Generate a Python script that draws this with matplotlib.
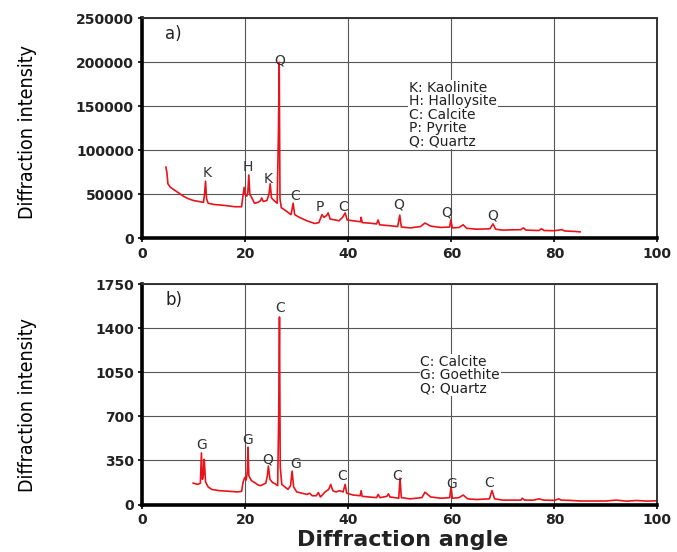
import matplotlib.pyplot as plt
from matplotlib import font_manager

# panel a) : angle / intensity read from the pattern
angle_a = [4.6, 4.8, 5.0, 5.5, 6, 7, 8, 9, 10, 11, 11.9, 12.1, 12.3, 12.5, 12.8,
           14, 16, 18, 19.3, 19.6, 19.8, 20.0, 20.3, 20.5, 20.7, 20.9, 21.3, 21.8,
           22.5, 23.0, 23.2, 23.5, 24.2, 24.6, 24.85, 25.1, 25.6, 26.2, 26.45, 26.6,
           26.75, 27.0, 28, 28.9, 29.3, 29.6, 30.5, 32, 33.5, 34.3, 34.9, 35.3, 35.8,
           36.1, 36.5, 37.5, 38.2, 38.9, 39.4, 39.8, 41, 42.4, 42.5, 42.7, 44, 45.5,
           45.8, 46.1, 48, 49.6, 50.0, 50.3, 52, 54, 54.9, 56, 58, 59.7, 59.9, 60.2,
           61.5, 62.3, 63, 65, 67.5, 68.1, 68.6, 70, 73.5, 74, 74.5, 77, 77.5, 78,
           80, 81.5, 82, 84, 85]
int_a = [81000, 75000, 62000, 58000, 56000, 52000, 48000, 45000, 43000, 42000,
         41000, 50000, 65000, 45000, 40000, 38500, 37500, 36000, 36000, 50000,
         58000, 50000, 48000, 52000, 72000, 50000, 46000, 40000, 41000, 43000,
         46000, 42000, 43000, 50000, 62000, 46000, 43000, 40000, 120000, 200000,
         45000, 35000, 31000, 27000, 40000, 27000, 24000, 20000, 17000, 18000,
         27000, 24000, 26000, 29000, 22000, 21000, 20000, 24000, 29000, 21000,
         20000, 19000, 24000, 18000, 17500, 16500, 21000, 15500, 14500, 13500,
         26500, 13000, 12000, 13500, 17500, 14000, 12500, 13000, 21000, 12000,
         12500, 15500, 11500, 10500, 11000, 16500, 10500, 9500, 10000, 12000,
         9500, 9000, 11000, 9000, 8800, 10000, 8500, 8000, 7500]

# panel b)
angle_b = [9.9, 10.3, 10.8, 11.3, 11.5, 11.7, 11.9, 12.05, 12.3, 12.8, 13.5, 15, 17,
           18.5, 19.3, 19.6, 19.9, 20.2, 20.4, 20.55, 20.7, 21.2, 22, 22.5, 23.0,
           23.5, 24.0, 24.3, 24.5, 24.8, 25.3, 25.8, 26.3, 26.5, 26.65, 26.8, 27.1,
           27.7, 28.3, 28.8, 29.1, 29.4, 30, 31, 32, 32.5, 33, 33.8, 34.2, 34.6,
           35.5, 36.2, 36.6, 37.0, 37.6, 38.3, 39.0, 39.4, 39.7, 41, 42.3, 42.5,
           42.7, 44, 45.5, 45.8, 46.2, 47.5, 47.8, 48.1, 49, 49.8, 50.05, 50.3, 52,
           54.3, 54.9, 56, 58, 59.7, 59.95, 60.2, 61.5, 62.3, 63.2, 65, 67.4, 67.9,
           68.4, 70, 73.5, 73.8, 74.2, 76, 77, 78, 80, 80.9, 81.3, 83, 85, 90, 92,
           94, 96, 98, 100]
int_b = [170, 165, 160, 170, 410, 200, 240, 360, 180, 140, 120, 110, 105, 100, 105,
         180, 215, 195, 260, 456, 230, 190, 170, 155, 150, 160, 170, 230, 306, 200,
         175, 165, 150, 700, 1490, 300, 160, 140, 120, 150, 265, 140, 100, 90, 80,
         90, 70, 70, 95, 60, 100, 120, 160, 110, 100, 110, 100, 160, 90, 75, 70,
         110, 65, 60, 55, 80, 55, 65, 85, 60, 55, 50, 210, 55, 45, 55, 98, 60, 50,
         55, 142, 50, 55, 75, 45, 40, 45, 111, 45, 35, 35, 50, 35, 35, 45, 35, 33,
         45, 35, 33, 28, 28, 35, 27, 32, 27, 30]

# peak letters: (letter, angle, intensity)
peaks_a = [("K", 12.6, 74000), ("H", 20.6, 81000), ("K", 24.5, 68000),
           ("Q", 26.6, 202000), ("C", 29.7, 48000), ("P", 34.4, 36000),
           ("C", 39.0, 36000), ("Q", 49.7, 39000), ("Q", 59.2, 29000),
           ("Q", 68.0, 25500)]
peaks_b = [("G", 11.6, 470), ("G", 20.4, 515), ("Q", 24.3, 360),
           ("C", 26.8, 1560), ("G", 29.8, 320), ("C", 38.9, 228),
           ("C", 49.5, 228), ("G", 60.0, 160), ("C", 67.4, 175)]

legend_a = "K: Kaolinite\nH: Halloysite\nC: Calcite\nP: Pyrite\nQ: Quartz"
legend_b = "C: Calcite\nG: Goethite\nQ: Quartz"

names = {f.name for f in font_manager.fontManager.ttflist}
narrow = "Liberation Sans Narrow" if "Liberation Sans Narrow" in names else "DejaVu Sans"

fig = plt.figure(figsize=(6.77, 5.52), dpi=100)
ax_a = fig.add_axes([0.21, 0.568, 0.761, 0.399])
ax_b = fig.add_axes([0.21, 0.086, 0.761, 0.399])

red = "#e8141b"


def style(ax, ymax, step):
    ax.set_xlim(0, 100)
    ax.set_ylim(0, ymax)
    ax.set_xticks(range(0, 101, 20))
    ax.set_yticks([step * i for i in range(6)])
    ax.grid(True, color="#555555", linewidth=0.8)
    ax.set_axisbelow(True)
    for s in ["left", "bottom"]:
        ax.spines[s].set_linewidth(2.6)
        ax.spines[s].set_color("black")
    for s in ["top", "right"]:
        ax.spines[s].set_linewidth(1.4)
        ax.spines[s].set_color("#333333")
    ax.tick_params(axis="both", length=3, width=1.2, labelsize=10, pad=3)
    for lab in ax.get_xticklabels() + ax.get_yticklabels():
        lab.set_fontweight("bold")
        lab.set_color("#222222")


ax_a.plot(angle_a, int_a, color=red, linewidth=1.2)
style(ax_a, 250000, 50000)
for letter, x, y in peaks_a:
    ax_a.text(x, y, letter, ha="center", va="center", fontsize=10, color="#333333")
ax_a.text(0.045, 0.93, "a)", transform=ax_a.transAxes, fontsize=12,
          ha="left", va="center", color="#222222")
ax_a.text(0.518, 0.715, legend_a, transform=ax_a.transAxes, fontsize=10,
          ha="left", va="top", linespacing=0.95, color="#222222",
          bbox=dict(facecolor="white", edgecolor="none", pad=0.5))

ax_b.plot(angle_b, int_b, color=red, linewidth=1.2)
style(ax_b, 1750, 350)
for letter, x, y in peaks_b:
    ax_b.text(x, y, letter, ha="center", va="center", fontsize=10, color="#333333")
ax_b.text(0.045, 0.93, "b)", transform=ax_b.transAxes, fontsize=12,
          ha="left", va="center", color="#222222")
ax_b.text(0.54, 0.68, legend_b, transform=ax_b.transAxes, fontsize=10,
          ha="left", va="top", linespacing=0.95, color="#222222",
          bbox=dict(facecolor="white", edgecolor="none", pad=0.5))

for ax, yc in [(ax_a, 0.76), (ax_b, 0.266)]:
    fig.text(0.04, yc, "Diffraction intensity", rotation=90, ha="center",
             va="center", fontsize=14, fontstretch="condensed",
             family=[narrow, "DejaVu Sans"])

fig.text(0.595, 0.022, "Diffraction angle", ha="center", va="center",
         fontsize=16, fontweight="bold", color="#222222")

fig.savefig("out.png", dpi=100)
